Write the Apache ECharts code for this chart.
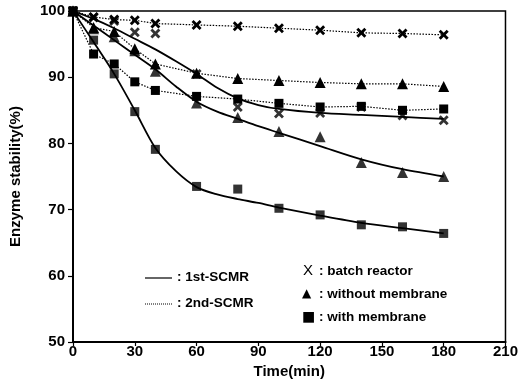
<!DOCTYPE html>
<html><head><meta charset="utf-8">
<script src="https://cdn.jsdelivr.net/npm/echarts@6/dist/echarts.min.js"></script>
<style>html,body{margin:0;padding:0;background:#fff}#c{width:521px;height:390px}</style>
</head><body><div id="c"></div>
<script>
const times = [0,10,20,30,40,60,80,100,120,140,160,180];
const batch1 = [100,99.0,98.5,96.8,96.6,90.5,85.5,84.5,84.6,85.5,84.2,83.5];
const batch2 = [100,99.1,98.7,98.6,98.1,97.9,97.7,97.4,97.1,96.7,96.6,96.4];
const noMem1 = [100,97.3,96.1,94.0,90.9,86.1,83.9,81.8,81.0,77.1,75.6,75.0];
const noMem2 = [100,97.5,96.9,94.3,92.0,90.6,89.8,89.5,89.2,89.0,89.0,88.6];
const mem1 = [100,95.6,90.5,84.8,79.1,73.5,73.1,70.2,69.2,67.7,67.4,66.4];
const mem2 = [100,93.5,92.0,89.3,88.0,87.1,86.7,86.05,85.5,85.6,85.0,85.2];
// fitted solid curves
const fitTimes = [0,10,20,30,40,50,60,70,80,90,100,120,140,160,180];
const batchFit = [100,98.8,97.4,95.8,94.2,92.4,90.5,88.4,86.8,85.8,85.2,84.6,84.3,84.0,83.7];
const noMemFit = [100,97.8,95.6,93.4,91.2,88.6,86.3,84.8,83.7,82.6,81.6,79.6,77.6,76.1,75.0];
const memFit = [100,95.3,90.5,85.0,79.3,75.8,73.4,72.3,71.6,71.0,70.3,69.1,68.0,67.2,66.4];
const xTicks = [0,30,60,90,120,150,180,210];
const yTicks = [50,60,70,80,90,100];

const pairs = (xs, ys) => xs.map((x, i) => [x, ys[i]]);
const XSYM = 'path://M0,2 L2,0 L5,3 L8,0 L10,2 L7,5 L10,8 L8,10 L5,7 L2,10 L0,8 L3,5 Z';
const font = 'Liberation Sans, Arial, sans-serif';

function fit(ys) {
  return {type:'line', data:pairs(fitTimes, ys), smooth:0.3, symbol:'none',
    lineStyle:{color:'#000', width:1.8}, z:2, silent:true};
}
function dotted(ys, sym, size) {
  return {type:'line', data:pairs(times, ys), symbol:sym, symbolSize:size,
    itemStyle:{color:'#000'}, lineStyle:{color:'#000', width:1.2, type:[1.5,1.5]}, z:3};
}
function pts(ys, sym, size) {
  return {type:'scatter', data:pairs(times, ys), symbol:sym, symbolSize:size,
    itemStyle:{color:'#000'}, z:4};
}

const chart = echarts.init(document.getElementById('c'));
chart.setOption({
  animation:false,
  grid:{left:72, right:15, top:11, bottom:48, show:true, borderColor:'#000', borderWidth:1.5},
  xAxis:{type:'value', min:0, max:210, interval:30,
    name:'Time(min)', nameLocation:'middle', nameGap:20,
    nameTextStyle:{color:'#000', fontFamily:font, fontSize:15, fontWeight:'bold'},
    axisLine:{lineStyle:{color:'#000', width:2}},
    axisTick:{length:4, lineStyle:{color:'#000', width:1.2}},
    axisLabel:{color:'#000', fontFamily:font, fontSize:15, fontWeight:'bold', margin:2,
      formatter:v => xTicks.includes(v) ? String(v) : ''},
    splitLine:{show:false}},
  yAxis:{type:'value', min:50, max:100, interval:10,
    name:'Enzyme stability(%)', nameLocation:'middle', nameGap:50,
    nameTextStyle:{color:'#000', fontFamily:font, fontSize:15, fontWeight:'bold'},
    axisLine:{lineStyle:{color:'#000', width:2}},
    axisTick:{length:5, lineStyle:{color:'#000', width:1.2}},
    axisLabel:{color:'#000', fontFamily:font, fontSize:15, fontWeight:'bold', margin:8,
      formatter:v => yTicks.includes(v) ? String(v) : ''},
    splitLine:{show:false}},
  series:[
    fit(batchFit), fit(noMemFit), fit(memFit),
    dotted(batch2, XSYM, 10), dotted(noMem2, 'triangle', 11), dotted(mem2, 'rect', 9),
    pts(batch1, XSYM, 10), pts(noMem1, 'triangle', 11), pts(mem1, 'rect', 9)
  ],
  graphic:[
    {type:'line', shape:{x1:145, y1:278, x2:172, y2:278}, style:{stroke:'#000', lineWidth:1.2}},
    {type:'text', left:177, top:270, style:{text:': 1st-SCMR', font:'bold 13.5px '+font, fill:'#000'}},
    {type:'line', shape:{x1:145, y1:304, x2:172, y2:304}, style:{stroke:'#000', lineWidth:1, lineDash:[1,1]}},
    {type:'text', left:177, top:296, style:{text:': 2nd-SCMR', font:'bold 13.5px '+font, fill:'#000'}},
    {type:'text', left:303, top:263, style:{text:'X', font:'15px '+font, fill:'#000'}},
    {type:'text', left:319, top:264, style:{text:': batch reactor', font:'bold 13.5px '+font, fill:'#000'}},
    {type:'text', left:302, top:288, style:{text:'▲', font:'12px DejaVu Sans', fill:'#000'}},
    {type:'text', left:319, top:287, style:{text:': without membrane', font:'bold 13.5px '+font, fill:'#000'}},
    {type:'text', left:302, top:310, style:{text:'■', font:'14px DejaVu Sans', fill:'#000'}},
    {type:'text', left:319, top:310, style:{text:': with membrane', font:'bold 13.5px '+font, fill:'#000'}}
  ]
});
</script></body></html>
